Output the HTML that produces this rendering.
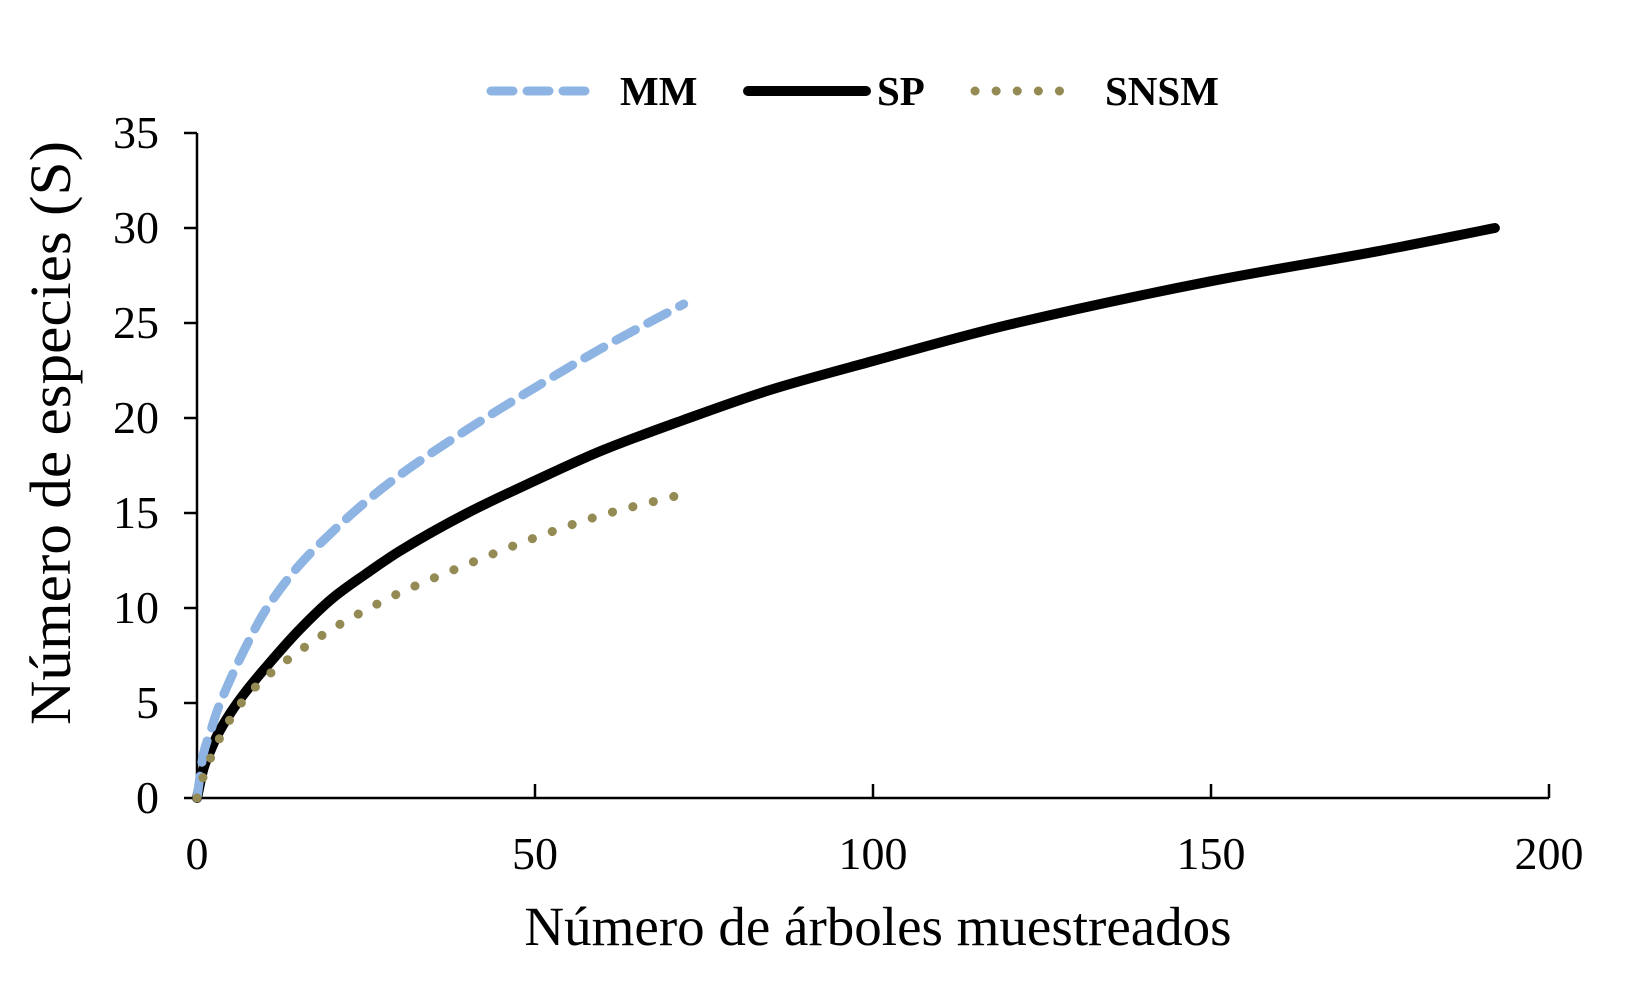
<!DOCTYPE html>
<html><head><meta charset="utf-8"><style>
html,body{margin:0;padding:0;background:#fff;}
svg text{font-family:"Liberation Serif",serif;fill:#000;}
</style></head><body>
<svg id="chart" width="1640" height="992" viewBox="0 0 1640 992">
<g id="axes"></g>
<g id="series"></g>
<g id="legend">
  <line x1="491" y1="91" x2="592" y2="91" stroke="#8EB4E3" stroke-width="9" stroke-dasharray="22,14" stroke-linecap="round"/>
  <text x="620" y="105" font-size="41" font-weight="bold">MM</text>
  <line x1="748" y1="91" x2="866" y2="91" stroke="#000" stroke-width="10" stroke-linecap="round"/>
  <text x="877" y="105" font-size="41" font-weight="bold">SP</text>
  <line x1="975" y1="91" x2="1080" y2="91" stroke="#948A54" stroke-width="9" stroke-dasharray="0.1,21" stroke-linecap="round"/>
  <text x="1105" y="105" font-size="41" font-weight="bold">SNSM</text>
</g>
<text x="878" y="945" font-size="55" text-anchor="middle">Número de árboles muestreados</text>
<text transform="translate(70,433) rotate(-90)" font-size="58" text-anchor="middle" textLength="584" lengthAdjust="spacingAndGlyphs">Número de especies (S)</text>
</svg>
<script>
const xTicks=[0,50,100,150,200];
const yTicks=[0,5,10,15,20,25,30,35];
const spX=[0,1,2,3,5,7,10,15,20,25,30,40,50,60,72,85,100,120,150,175,192];
const spY=[0,1.6,2.5,3.3,4.5,5.5,6.8,8.8,10.5,11.8,13.0,15.0,16.7,18.3,19.9,21.5,23.0,24.9,27.2,28.8,30.0];
const mmX=[0,1,2,3,5,7,10,15,20,25,30,40,50,60,72];
const mmY=[0,2.4,3.5,4.6,6.3,7.8,9.8,12.2,14.0,15.6,17.0,19.4,21.6,23.7,26.0];
const snX=[0,1,2,3,5,7,10,15,20,25,30,40,50,60,72];
const snY=[0,1.2,2.1,2.9,4.2,5.2,6.3,7.7,8.9,9.9,10.8,12.3,13.7,14.9,16.0];
const X0=197,X1=1549,Y0=798,Y1=133;
const sx=v=>X0+(v-0)/(200-0)*(X1-X0);
const sy=v=>Y0-(v-0)/(35-0)*(Y0-Y1);
const NS='http://www.w3.org/2000/svg';
const axes=document.getElementById('axes'),series=document.getElementById('series');
function mk(tag,attrs,parent){const e=document.createElementNS(NS,tag);for(const k in attrs)e.setAttribute(k,attrs[k]);parent.appendChild(e);return e;}
const ya=mk('line',{x1:X0,y1:Y1,x2:X0,y2:Y0,stroke:'#000','stroke-width':2.5},axes);


const xa=mk('line',{x1:X0,y1:Y0,x2:X1,y2:Y0,stroke:'#000','stroke-width':2.5},axes);


yTicks.forEach(t=>{
  const l=mk('line',{x1:X0-13,y1:sy(t),x2:X0,y2:sy(t),stroke:'#000','stroke-width':2.5},axes);
  
  
  const tx=mk('text',{x:159,y:sy(t)+15,'font-size':46,'text-anchor':'end'},axes);
  tx.textContent=t;
  
  
});
xTicks.forEach(t=>{
  const l=mk('line',{x1:sx(t),y1:Y0-14,x2:sx(t),y2:Y0,stroke:'#000','stroke-width':2.5},axes);
  
  
  const tx=mk('text',{x:sx(t),y:869,'font-size':46,'text-anchor':'middle'},axes);
  tx.textContent=t;
  
  
});
function path(xs,ys){
  // monotone cubic (Fritsch-Carlson) in pixel space
  const px=xs.map(sx),py=ys.map(sy),n=px.length;
  const d=[],m=new Array(n);
  for(let i=0;i<n-1;i++)d.push((py[i+1]-py[i])/(px[i+1]-px[i]));
  m[0]=d[0];m[n-1]=d[n-2];
  for(let i=1;i<n-1;i++)m[i]=(d[i-1]*d[i]<=0)?0:2/(1/d[i-1]+1/d[i]);
  let s='M'+px[0]+','+py[0];
  for(let i=0;i<n-1;i++){
    const h=px[i+1]-px[i];
    s+=' C'+(px[i]+h/3)+','+(py[i]+m[i]*h/3)+' '+(px[i+1]-h/3)+','+(py[i+1]-m[i+1]*h/3)+' '+px[i+1]+','+py[i+1];
  }
  return s;
}
const sp=mk('path',{d:path(spX,spY),fill:'none',stroke:'#000','stroke-width':10,'stroke-linecap':'round'},series);


const mm=mk('path',{d:path(mmX,mmY),fill:'none',stroke:'#8EB4E3','stroke-width':9,'stroke-dasharray':'22,14','stroke-linecap':'round'},series);


const sn=mk('path',{d:path(snX,snY),fill:'none',stroke:'#948A54','stroke-width':9,'stroke-dasharray':'0.1,21','stroke-linecap':'round'},series);


</script>
</body></html>
